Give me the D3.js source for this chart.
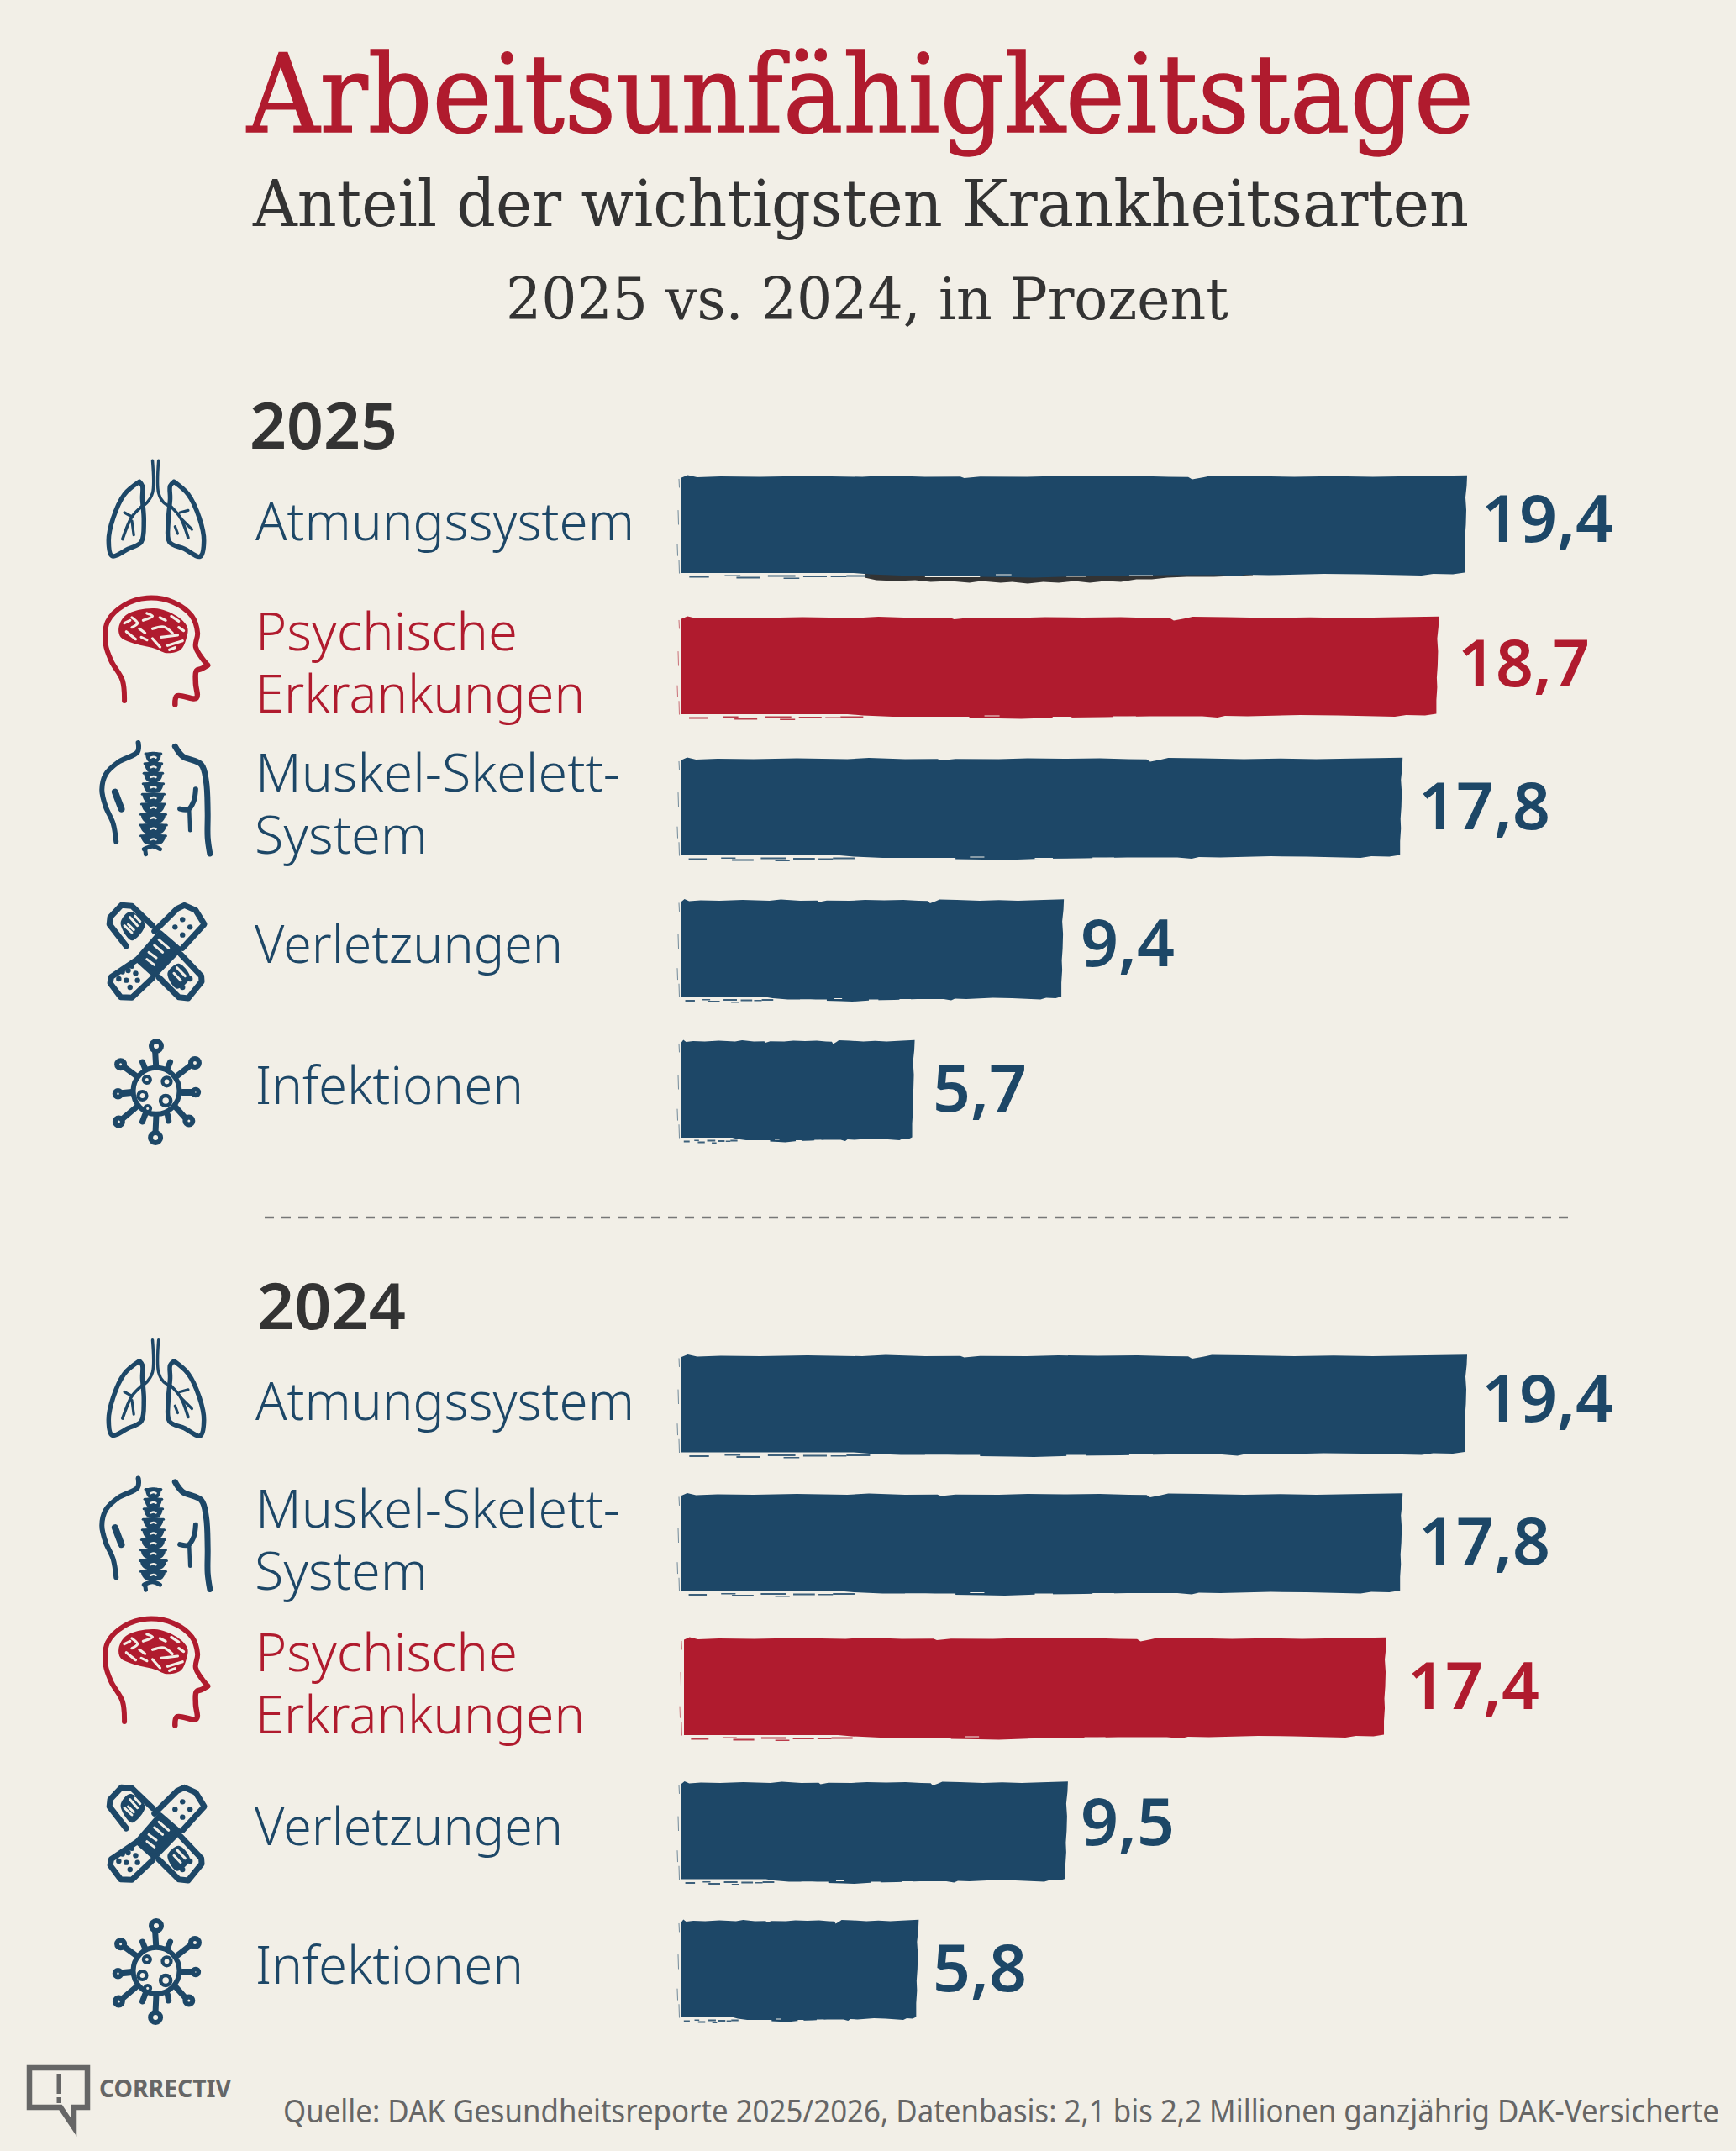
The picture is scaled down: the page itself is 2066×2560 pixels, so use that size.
<!DOCTYPE html>
<html><head><meta charset="utf-8">
<script src="https://cdn.jsdelivr.net/npm/d3@7"></script>
<style>html,body{margin:0;padding:0;background:#f2efe7}svg{display:block}</style>
</head><body><div id="c"></div>
<script>
// ---------- data ----------
const titleText = "Arbeitsunfähigkeitstage";
const subtitleText = "Anteil der wichtigsten Krankheitsarten";
const subtitle2Text = "2025 vs. 2024, in Prozent";
const sourceText = "Quelle: DAK Gesundheitsreporte 2025/2026, Datenbasis: 2,1 bis 2,2 Millionen ganzjährig DAK-Versicherte";
const logoText = "CORRECTIV";
const year2025 = "2025";
const year2024 = "2024";
const categories2025 = ["Atmungssystem", "Psychische Erkrankungen", "Muskel-Skelett-System", "Verletzungen", "Infektionen"];
const values2025 = [19.4, 18.7, 17.8, 9.4, 5.7];
const categories2024 = ["Atmungssystem", "Muskel-Skelett-System", "Psychische Erkrankungen", "Verletzungen", "Infektionen"];
const values2024 = [19.4, 17.8, 17.4, 9.5, 5.8];
const highlightCategory = "Psychische Erkrankungen";

// ---------- layout & style (not data) ----------
const W = 2066, H = 2560;
const BG = "#f2efe7", NAVY = "#1d4767", RED = "#b01b2e", INK = "#333333", GREY = "#666666";
const SANS = "'Noto Sans', 'Open Sans', sans-serif";
const SERIF = "'DejaVu Serif', serif";
const rowCenters2025 = [624.5, 792.5, 960.5, 1129, 1296.5];
const rowCenters2024 = [1671, 1836, 2007.5, 2179, 2343.5];
const valueX2025 = [1763, 1735, 1688, 1286, 1110];
const valueX2024 = [1763, 1688, 1675, 1286, 1110];
const valueDy2025 = [20.5, 24.5, 26.5, 21, 26.5];
const valueDy2024 = [21, 26, 26.5, 17, 26.5];
const barInsets2024 = [0, 0, 3, 0, 0];
const BAR_H = 116, BAR_LEAD = 4;
const labelLayout = {
  "Atmungssystem": [{t:"Atmungssystem", x:304, w:451, dy:18.5}],
  "Psychische Erkrankungen": [{t:"Psychische", x:304, w:312, dy:-18.5},{t:"Erkrankungen", x:304, w:392, dy:55.5}],
  "Muskel-Skelett-System": [{t:"Muskel-Skelett-", x:304, w:434, dy:-18.5},{t:"System", x:303, w:206, dy:55.5}],
  "Verletzungen": [{t:"Verletzungen", x:303, w:367, dy:17}],
  "Infektionen": [{t:"Infektionen", x:304, w:319, dy:17.5}]
};

// brushed-edge profiles: [fraction of bar length, px offset]
const topEdge = [[0,2],[.008,-1],[.02,1.5],[.05,.5],[.1,1],[.16,0],[.23,1],[.26,-.5],[.31,1],[.355,.8],[.36,2.5],[.38,.8],[.44,1],[.48,0],[.53,.5],[.58,0],[.62,1],[.645,1.2],[.65,4],[.665,1.5],[.675,-.5],[.72,0],[.78,1],[.83,.3],[.88,1],[.93,.3],[1,-.8]];
const bottomEdge = [[1,-1],[.985,1],[.96,.5],[.945,2.5],[.92,2],[.87,1],[.82,.5],[.75,2],[.72,1.5],[.71,3.5],[.69,2],[.62,2],[.56,3],[.5,3.5],[.45,5],[.42,4.5],[.38,4],[.34,2.5],[.28,2.5],[.24,1],[.22,-.5],[0,-.5]];
const rightEdge = [[0,0],[.1,-.5],[.22,-2],[.35,-1],[.5,-1.5],[.62,-2.5],[.72,-2],[.85,-3],[1,-3]];
const fringes = [[.01,3,.025,2],[.055,2,.02,1.5],[.07,4,.03,2],[.11,2,.035,2],[.13,5,.02,1.5],[.155,2.5,.03,2],[.19,3,.02,1.5],[.21,2,.03,2]];
const slits = [[.31,3,.07,2],[.49,3,.025,1.5],[.57,2.5,.03,1.5],[.4,1.5,.02,1]];
const leftBits = [[.03,.12,-3],[.35,.5,-4],[.7,.82,-5],[.86,1,-3]];
const smudge = [[0,3],[.03,6],[.08,7],[.13,6],[.17,8],[.22,7],[.27,9],[.3,7],[.35,9],[.38,8],[.42,10],[.46,8],[.5,9],[.54,7],[.58,9],[.62,7],[.66,8],[.7,5],[.74,5],[.78,3],[.83,2],[.9,2],[1,0]];

const svg = d3.select("#c").append("svg").attr("width", W).attr("height", H).attr("viewBox", `0 0 ${W} ${H}`);
svg.append("rect").attr("width", W).attr("height", H).attr("fill", BG);

function fitText(g, str, x, y, w, size, fill, family, weight) {
  return g.append("text").attr("x", x).attr("y", y).attr("font-size", size).attr("fill", fill)
    .attr("font-family", family).attr("font-weight", weight)
    .attr("textLength", w).attr("lengthAdjust", "spacingAndGlyphs").text(str);
}

// titles
fitText(svg, titleText, 294, 157, 1460, 130, RED, SERIF, 400).attr("stroke", RED).attr("stroke-width", 1.4);
fitText(svg, subtitleText, 301, 269, 1447, 77, INK, SERIF, 400);
fitText(svg, subtitle2Text, 602, 380, 860, 70, INK, SERIF, 400);
fitText(svg, year2025, 297, 534, 176, 76, INK, SANS, 600);
fitText(svg, year2024, 306, 1582, 177, 76, INK, SANS, 600);

// divider
svg.append("line").attr("x1", 315).attr("x2", 1872).attr("y1", 1449).attr("y2", 1449)
  .attr("stroke", "#777").attr("stroke-width", 2.4).attr("stroke-dasharray", "11 9");

// scale
const x = d3.scaleLinear().domain([0, 19.4]).range([815, 1746]);

const SX = 2.24, SY = 3;
const curve = d3.line().curve(d3.curveCatmullRom.alpha(.5));
const closed = d3.line().curve(d3.curveCatmullRomClosed.alpha(.5));
const straight = d3.line();
function drawIcon(g, spec, color) {
  const [ox, oy] = spec.origin;
  const p = pts => pts.map(([a, b]) => [(a - ox) / SX, (b - oy) / SY]);
  (spec.strokes || []).forEach(s => g.append("path").attr("d", curve(p(s[0])))
    .attr("fill", "none").attr("stroke", color).attr("stroke-width", s[1])
    .attr("stroke-linecap", "round").attr("stroke-linejoin", "round"));
  (spec.lines || []).forEach(s => g.append("path").attr("d", straight(p(s[0])))
    .attr("fill", "none").attr("stroke", color).attr("stroke-width", s[1])
    .attr("stroke-linecap", "round").attr("stroke-linejoin", "round"));
  (spec.blobs || []).forEach(b => g.append("path").attr("d", closed(p(b))).attr("fill", color));
  (spec.holes || []).forEach(s => g.append("path").attr("d", curve(p(s)))
    .attr("fill", "none").attr("stroke", BG).attr("stroke-width", spec.holeW || 2.6).attr("stroke-linecap", "round"));
  (spec.rings || []).forEach(([a, b, r, w]) => {
    const [q] = p([[a, b]]);
    g.append("circle").attr("cx", q[0]).attr("cy", q[1]).attr("r", r)
      .attr("fill", w ? BG : color).attr("stroke", color).attr("stroke-width", w || 0);
  });
}
const spineY = [1145, 1180, 1215, 1252, 1290, 1325, 1362, 1400, 1438];
const spineW = [20, 22, 24, 26, 28, 30, 32, 34, 32];
const icons = {
  "Atmungssystem": { origin: [215, 313.5], strokes: [
      [[[170,160],[130,205],[100,290],[88,370],[97,425],[140,400],[175,375],[182,300],[178,220],[178,175],[170,160]], 5.5],
      [[[262,160],[300,205],[330,290],[342,370],[332,427],[290,400],[250,375],[247,300],[252,220],[252,175],[262,160]], 5.5],
      [[[205,85],[205,200],[190,235],[175,250]], 3.5],
      [[[221,85],[221,200],[235,235],[255,250]], 3.5],
      [[[175,250],[150,285],[125,365]], 3.6], [[[150,285],[130,270]], 3.2], [[[150,300],[155,350]], 3.2],
      [[[255,250],[280,290],[300,360]], 3.6], [[[280,290],[310,330]], 3.2], [[[278,270],[300,262]], 3.2], [[[265,320],[272,345]], 3.2]
  ]},
  "Psychische Erkrankungen": { origin: [215, 817.5], holeW: 3.2, strokes: [
      [[[130,942],[125,870],[95,800],[80,740],[85,660],[130,600],[190,575],[260,590],[310,640],[325,700],[320,750],[352,815]], 6],
      [[[352,815],[335,828],[322,835],[320,880],[322,932],[270,925],[265,955]], 6.5]
    ], blobs: [
      [[115,680],[135,635],[210,612],[270,640],[298,680],[295,720],[280,760],[245,772],[210,755],[150,735],[120,715]]
    ], holes: [
      [[150,645],[165,665],[150,680]], [[190,630],[205,640],[180,655]], [[225,645],[240,655]], [[255,640],[275,658]],
      [[205,685],[235,678],[258,700]], [[170,685],[185,700]], [[135,695],[160,722]], [[175,715],[190,725]],
      [[245,745],[285,728]], [[228,715],[272,708]], [[205,720],[225,750]], [[275,680],[288,692]], [[130,665],[145,655]], [[250,760],[265,752]]
  ]},
  "Muskel-Skelett-System": { origin: [215, 1321.5], holeW: 2.4, strokes: [
      [[[167,1092],[165,1125],[115,1160],[80,1205],[70,1260],[80,1320],[100,1380],[108,1445]], 6],
      [[[265,1105],[285,1140],[335,1170],[348,1230],[352,1340],[352,1430],[358,1488]], 7],
      [[[105,1268],[122,1328]], 8],
      [[[320,1258],[315,1300],[300,1330],[278,1328]], 6], [[[303,1335],[305,1405]], 4.5],
      [[[182,1472],[205,1462],[225,1472]], 5], [[[185,1470],[187,1490]], 5]
    ], lines: spineY.map((y, i) => [[[207 - spineW[i] * 1.05, y - 14], [207 + spineW[i] * 1.05, y - 14]], 3]),
    blobs: spineY.map((y, i) => { const w = spineW[i]; return [[207 - w, y - 12], [207 - w * .55, y - 19], [207 + w * .55, y - 19], [207 + w, y - 12], [207 + w * .8, y + 10], [207 + w * .4, y + 18], [207 - w * .4, y + 18], [207 - w * .8, y + 10]]; }),
    holes: spineY.map(y => [[200, y], [208, y - 3], [214, y]])
  },
  "Verletzungen": { origin: [215, 267], holeW: 3, lines: [
      [[[205,185],[150,115],[122,112],[92,155],[90,180],[135,258]], 7],
      [[[210,205],[270,125],[290,112],[320,130],[343,180],[285,265]], 7],
      [[[225,212],[275,270],[210,360],[165,305],[225,212]], 7],
      [[[165,305],[95,368],[92,390],[120,440],[150,442],[205,372]], 7],
      [[[280,287],[335,365],[336,385],[300,444],[275,440],[222,370]], 7]
    ], blobs: [
      [[120,175],[145,135],[185,180],[150,238]],
      [[225,225],[265,270],[210,348],[175,305]],
      [[245,355],[275,320],[305,370],[270,410]]
    ], holes: [
      [[130,185],[150,210]],[[145,155],[165,185]],[[140,180],[155,200]],[[158,150],[172,170]],
      [[195,280],[215,300]],[[210,255],[232,280]],[[190,305],[210,325]],[[222,235],[248,265]],
      [[262,355],[280,380]],[[270,335],[292,365]]
    ], rings: [
      [285,163,3.2],[265,190,3.2],[305,190,3.2],[285,218,3.2],
      [115,375,3.2],[140,345,3.2],[135,380,3.2],[160,355,3.2],[145,405,3.2],[165,380,3.2],[125,350,3],[150,330,3],
      [305,375,3.2],[285,405,3.2]
  ]},
  "Infektionen": { origin: [215, 769.5], lines: [
      [[[215,700],[212,635]], 7],[[[215,860],[213,920]], 7],
      [[[160,720],[125,685]], 7],[[[272,720],[310,680]], 7],
      [[[150,780],[110,785]], 8],[[[285,780],[315,780]], 8],
      [[[160,835],[120,880]], 7],[[[268,835],[298,880]], 7],
      [[[185,695],[178,672]], 7],[[[245,695],[252,672]], 7],
      [[[185,860],[178,885]], 7],[[[245,860],[248,882]], 7]
    ], rings: [
      [215,775,27.5,6],
      [215,615,6,6],[213,942,6,6],[120,680,4.5,6],[318,675,5,6],
      [113,785,4,5.5],[320,780,3.5,5.5],[115,885,4.5,6],[302,882,4.5,6],
      [190,735,4,4.2],[243,742,5,4.2],[178,792,5,4.2],[240,810,6,4.5],[192,838,3.5,3.8]
  ]}
};

// ---------- bars ----------
function barPath(x0, x1, yT, yB) {
  const L = x1 - x0, pts = [];
  topEdge.forEach(([f, d]) => pts.push([x0 + f * L, yT + d]));
  rightEdge.forEach(([f, d]) => pts.push([x1 + d, yT + f * (yB - yT)]));
  bottomEdge.forEach(([f, d]) => pts.push([x0 + f * (L - 3), yB + d]));
  return d3.line()(pts) + "Z";
}
function drawPanel(cats, vals, centers, valueX, dys, insets, isTop) {
  const y = d3.scaleOrdinal(cats, centers);
  const g = svg.append("g");
  const row = g.selectAll("g").data(cats.map((c, i) => ({ c, v: vals[i], i }))).join("g");
  row.each(function (d) {
    const r = d3.select(this), col = d.c === highlightCategory ? RED : NAVY, cy = y(d.c);
    const x0 = x(0) - BAR_LEAD + (insets[d.i] || 0), x1 = x(d.v), yT = cy - BAR_H / 2, yB = cy + BAR_H / 2, L = x1 - x0;
    drawIcon(r.append("g").attr("transform", `translate(186,${cy})`), icons[d.c], col);
    labelLayout[d.c].forEach(l => fitText(r, l.t, l.x, cy + l.dy, l.w, 62, col, SANS, 300));
    if (isTop && d.i === 0) {
      const sx0 = 1029, sx1 = 1491, pts = smudge.map(([f, o]) => [sx0 + f * (sx1 - sx0), yB + o + 2]);
      r.append("path").attr("d", d3.line()([[sx0, yB - 6], ...pts, [sx1, yB - 6]]) + "Z").attr("fill", INK);
    }
    r.append("path").attr("class", "bar").attr("d", barPath(x0, x1, yT, yB)).attr("fill", col);
    fringes.forEach(([f, o, l, t]) => r.append("rect").attr("x", x0 + f * L).attr("y", yB + o)
      .attr("width", l * L).attr("height", t).attr("fill", col).attr("opacity", .85));
    slits.forEach(([f, o, l, t]) => r.append("rect").attr("x", x0 + f * L).attr("y", yB + o - .5)
      .attr("width", l * L).attr("height", t).attr("fill", BG));
    leftBits.forEach(([a, b, o]) => r.append("line").attr("x1", x0 + o).attr("x2", x0 + o + .5)
      .attr("y1", yT + a * BAR_H).attr("y2", yT + b * BAR_H).attr("stroke", col).attr("stroke-width", 1).attr("opacity", .6));
    const label = String(d.v).replace(".", ",");
    fitText(r, label, valueX[d.i], cy + dys[d.i], label.length > 3 ? 157 : 112, 78, col, SANS, 600);
  });
}
drawPanel(categories2025, values2025, rowCenters2025, valueX2025, valueDy2025, [0,0,0,0,0], true);
drawPanel(categories2024, values2024, rowCenters2024, valueX2024, valueDy2024, barInsets2024, false);

// ---------- footer ----------
svg.append("path").attr("d", "M35,2461H104V2508H88V2532L72,2508H35Z").attr("fill", "none").attr("stroke", GREY).attr("stroke-width", 6.5);
svg.append("rect").attr("x", 67.5).attr("y", 2468).attr("width", 5.5).attr("height", 24).attr("fill", GREY);
svg.append("rect").attr("x", 67.5).attr("y", 2496).attr("width", 5.5).attr("height", 7).attr("fill", GREY);
fitText(svg, logoText, 118, 2496, 157, 29, GREY, SANS, 700);
fitText(svg, sourceText, 337, 2526, 1709, 39, GREY, SANS, 400);
</script></body></html>
